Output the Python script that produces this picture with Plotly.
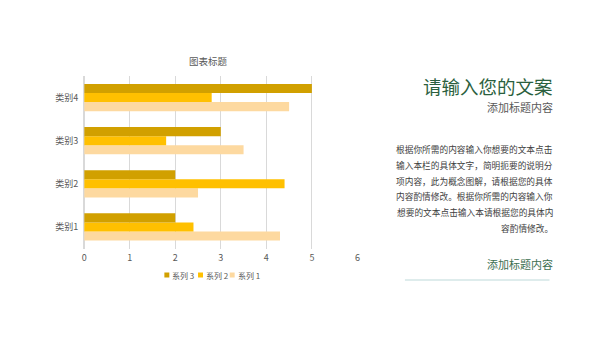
import plotly.graph_objects as go

categories = ["类别1", "类别2", "类别3", "类别4"]
series1 = [4.3, 2.5, 3.5, 4.5]
series2 = [2.4, 4.4, 1.8, 2.8]
series3 = [2.0, 2.0, 3.0, 5.0]
series_names = ["系列 1", "系列 2", "系列 3"]
x_ticks = [0, 1, 2, 3, 4, 5, 6]

chart_title = "图表标题"
headline = "请输入您的文案"
subhead = "添加标题内容"
body_lines = [
    "根据你所需的内容输入你想要的文本点击",
    "输入本栏的具体文字，简明扼要的说明分",
    "项内容，此为概念图解，请根据您的具体",
    "内容酌情修改。根据你所需的内容输入你",
    "想要的文本点击输入本请根据您的具体内",
    "容酌情修改。",
]
footer = "添加标题内容"

colors = ["#FDD9A0", "#FFC000", "#D1A000"]
FONT = "Noto Sans CJK SC, Microsoft YaHei, sans-serif"
W, H = 600, 338

def px(p):
    return p / W

def py(p):
    return 1 - p / H

fig = go.Figure()
for name, vals, col in zip(series_names, [series1, series2, series3], colors):
    fig.add_trace(go.Bar(y=categories, x=vals, name=name, orientation="h",
                         marker=dict(color=col, line=dict(width=0)), hoverinfo="skip"))

fig.update_layout(
    width=W, height=H, margin=dict(l=0, r=0, t=0, b=0),
    paper_bgcolor="white", plot_bgcolor="white",
    barmode="group", bargap=0.37, bargroupgap=0,
    font=dict(family=FONT, color="#595959", size=9),
    showlegend=False,
    xaxis=dict(domain=[px(82), px(358)], range=[0, 6], tickvals=x_ticks,
               showgrid=True, gridcolor="#D9D9D9", gridwidth=1,
               zeroline=True, zerolinecolor="#D9D9D9", showline=False,
               ticks="", ticklabelstandoff=2,
               tickfont=dict(size=9, color="#595959"), fixedrange=True),
    yaxis=dict(domain=[py(248.5), py(76)], showgrid=False, zeroline=False,
               showline=False, ticks="", ticklen=0, ticklabelstandoff=5,
               tickfont=dict(size=9, color="#595959"), fixedrange=True),
)

fig.add_annotation(text=chart_title, x=px(208), y=py(61), xref="paper", yref="paper",
                   showarrow=False, xanchor="center", yanchor="middle",
                   font=dict(size=9.5, color="#595959", family=FONT))

# legend (reference order: 系列 3, 系列 2, 系列 1)
leg_sq_x = [163, 197, 229]
for sx, name, col in zip(leg_sq_x, series_names[::-1], colors[::-1]):
    fig.add_shape(type="rect", xref="paper", yref="paper",
                  x0=px(sx), x1=px(sx + 5), y0=py(277.5), y1=py(272.5),
                  fillcolor=col, line=dict(width=0))
    fig.add_annotation(text=name, x=px(sx + 6), y=py(275), xref="paper", yref="paper",
                       showarrow=False, xanchor="left", yanchor="middle",
                       font=dict(size=8, color="#595959", family=FONT))

fig.add_annotation(text=headline, x=px(558), y=py(86), xref="paper", yref="paper",
                   showarrow=False, xanchor="right", yanchor="middle",
                   font=dict(size=18.5, color="#2B5F3E", family=FONT))
fig.add_annotation(text=subhead, x=px(558), y=py(107), xref="paper", yref="paper",
                   showarrow=False, xanchor="right", yanchor="middle",
                   font=dict(size=11, color="#595959", family=FONT))

for i, line in enumerate(body_lines):
    fig.add_annotation(text=line, x=px(558), y=py(149.5 + i * 15.8), xref="paper", yref="paper",
                       showarrow=False, xanchor="right", yanchor="middle",
                       font=dict(size=8.7, color="#404040", family=FONT))

fig.add_annotation(text=footer, x=px(558), y=py(264), xref="paper", yref="paper",
                   showarrow=False, xanchor="right", yanchor="middle",
                   font=dict(size=11, color="#3C6E50", family=FONT))
fig.add_shape(type="line", xref="paper", yref="paper", x0=px(406), x1=px(552),
              y0=py(280), y1=py(280), line=dict(color="#D3E6E6", width=1.5))

fig.write_html("out.html")
